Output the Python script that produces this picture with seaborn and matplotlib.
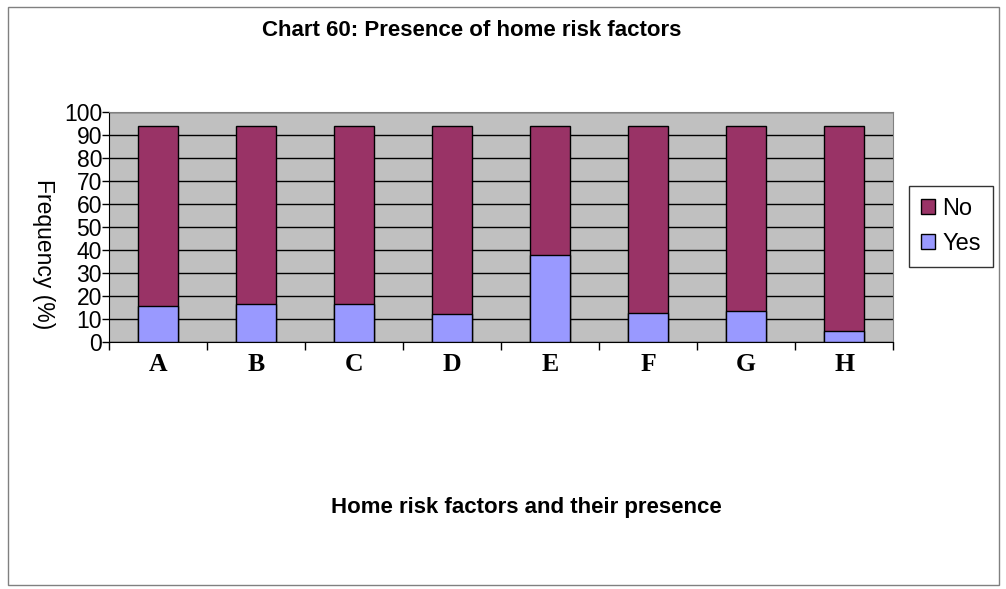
import numpy as np
import pandas as pd
import seaborn as sns
import matplotlib.pyplot as plt
from matplotlib.patches import Patch, Rectangle

# Home risk factors data (percent)
factors = ['A', 'B', 'C', 'D', 'E', 'F', 'G', 'H']
yes_pct = [15.8, 16.6, 16.6, 12.4, 37.8, 12.6, 13.5, 4.9]
no_pct = [78.2, 77.4, 77.4, 81.6, 56.2, 81.4, 80.5, 89.1]

df = pd.DataFrame({'factor': factors, 'Yes': yes_pct, 'No': no_pct})
df['total'] = df['Yes'] + df['No']

sns.set_style('white')
plt.rcParams['font.family'] = ['Liberation Sans', 'DejaVu Sans']
plt.rcParams['text.color'] = 'black'
plt.rcParams['xtick.color'] = 'black'
plt.rcParams['ytick.color'] = 'black'

fig = plt.figure(figsize=(10.06, 5.89), dpi=100)
ax = fig.add_axes([0.1083, 0.4188, 0.7794, 0.3905])
ax.set_facecolor('#C0C0C0')

sns.barplot(data=df, x='factor', y='total', color='#993366', width=0.4,
            edgecolor='black', linewidth=1, saturation=1, ax=ax, zorder=3)
sns.barplot(data=df, x='factor', y='Yes', color='#9999FF', width=0.4,
            edgecolor='black', linewidth=1, saturation=1, ax=ax, zorder=4)

ax.set_xlim(-0.5, len(factors) - 0.5)
ax.set_ylim(0, 100)
ax.set_yticks(np.arange(0, 101, 10))
ax.yaxis.grid(True, color='black', linewidth=1, zorder=1)
ax.set_axisbelow(True)
for s in ax.spines.values():
    s.set_color('#808080')
ax.spines['left'].set_color('black')
ax.spines['bottom'].set_color('black')

ax.tick_params(axis='y', labelsize=16.5, length=5, width=1, color='black', labelcolor='black',
               direction='out', left=True, pad=0)
ax.tick_params(axis='x', which='major', length=0, pad=8, labelcolor='black')
ax.set_xticks(np.arange(-0.5, len(factors)), minor=True)
ax.tick_params(axis='x', which='minor', length=6, width=1, color='black', direction='out', bottom=True)
for lab in ax.get_xticklabels():
    lab.set_fontfamily('Liberation Serif')
    lab.set_fontweight('bold')
    lab.set_fontsize(18.5)

ax.set_xlabel('')
ax.set_ylabel('')
fig.text(0.043, 0.569, 'Frequency (%)', rotation=-90, fontsize=16.5, ha='center', va='center')
fig.text(0.469, 0.949, 'Chart 60: Presence of home risk factors', fontsize=16,
         fontweight='bold', ha='center', va='center')
fig.text(0.523, 0.139, 'Home risk factors and their presence', fontsize=16,
         fontweight='bold', ha='center', va='center')

handles = [Patch(facecolor='#993366', edgecolor='black', label='No'),
           Patch(facecolor='#9999FF', edgecolor='black', label='Yes')]
leg = fig.legend(handles=handles, loc='center left', bbox_to_anchor=(0.904, 0.615),
                 fontsize=17, frameon=True, fancybox=False, handlelength=0.6,
                 handleheight=0.6, handletextpad=0.3, borderpad=0.5, labelspacing=0.55,
                 borderaxespad=0)
leg.get_frame().set_edgecolor('black')
leg.get_frame().set_linewidth(1)

fig.patches.append(Rectangle((0.008, 0.007), 0.985, 0.981, transform=fig.transFigure,
                             fill=False, edgecolor='#808080', linewidth=1))

fig.savefig('out.png', dpi=100)
